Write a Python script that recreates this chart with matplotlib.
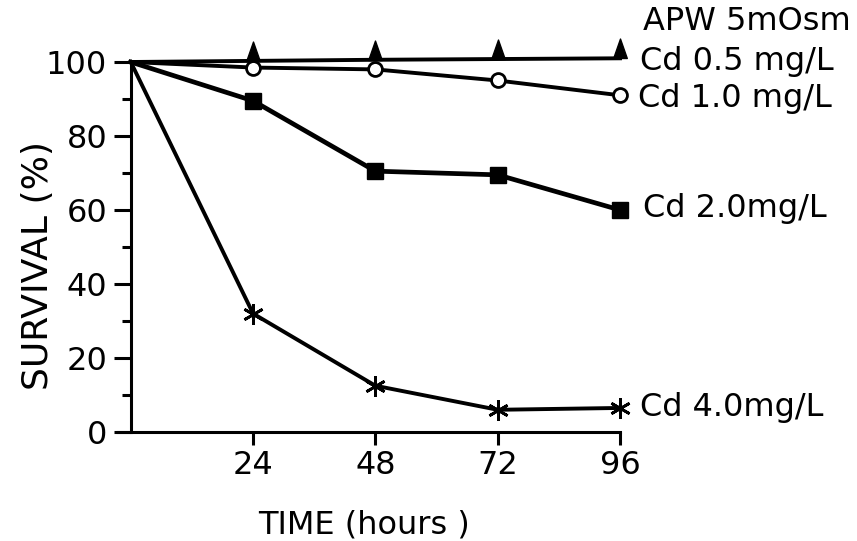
from matplotlib import pyplot as plt
from matplotlib.path import Path
from matplotlib.ticker import MultipleLocator
import numpy as np

hours = [0, 24, 48, 72, 96]
apw = [100, 100.3, 100.6, 100.8, 101]
cd_1 = [100, 98.5, 98, 95, 91]
cd_2 = [100, 89.5, 70.5, 69.5, 60]
cd_4 = [100, 32, 12.5, 6, 6.5]

labels = ["APW 5mOsm", "Cd 0.5 mg/L", "Cd 1.0 mg/L", "Cd 2.0mg/L", "Cd 4.0mg/L"]
label_y = [111, 100, 90, 60.5, 6.5]
label_x = [100.5, 100, 99.5, 100.5, 100]


def main():
    plt.rcParams["font.family"] = ["DejaVu Sans"]
    fig = plt.figure(figsize=(8.57, 5.41), dpi=100)
    ax = fig.add_axes([0.1377, 0.2015, 0.5858, 0.6839])

    # triangle sitting on top of its point
    tri = Path([(-0.7, 0), (0.7, 0), (0, 2), (-0.7, 0)],
               [Path.MOVETO, Path.LINETO, Path.LINETO, Path.CLOSEPOLY])

    ax.plot(hours, apw, color="black", lw=2.8, marker=tri, ms=28,
            markevery=[1, 2, 3, 4], clip_on=False, zorder=3)
    ax.plot(hours, cd_1, color="black", lw=2.8, marker="o", ms=10,
            mfc="white", mec="black", mew=2, markevery=[1, 2, 3, 4],
            clip_on=False, zorder=4)
    ax.plot(hours, cd_2, color="black", lw=3.4, marker="s", ms=12,
            markevery=[1, 2, 3, 4], clip_on=False, zorder=3)
    ax.plot(hours, cd_4, color="black", lw=2.8, marker=(6, 2, 0), ms=15,
            mew=2, markevery=[1, 2, 3, 4], clip_on=False, zorder=3)

    for txt, x, y in zip(labels, label_x, label_y):
        ax.text(x, y, txt, fontsize=23, va="center", ha="left", clip_on=False)

    ax.set_xlim(-2.5, 96)
    ax.set_ylim(0, 100)
    ax.spines["left"].set_position(("data", 0))
    ax.spines["top"].set_visible(False)
    ax.spines["right"].set_visible(False)
    for s in ("left", "bottom"):
        ax.spines[s].set_linewidth(2.2)

    ax.set_xticks([24, 48, 72, 96])
    ax.set_yticks([0, 20, 40, 60, 80, 100])
    ax.yaxis.set_minor_locator(MultipleLocator(10))
    ax.tick_params(axis="y", which="major", length=12, width=2.2,
                   labelsize=23, pad=5)
    ax.tick_params(axis="y", which="minor", length=6.5, width=2.2)
    ax.tick_params(axis="x", which="major", length=9, width=2.2,
                   labelsize=23, pad=4)

    fig.text(0.425, 0.03, "TIME (hours )", fontsize=23, ha="center", va="center")
    fig.text(0.044, 0.51, "SURVIVAL (%)", fontsize=26, ha="center",
             va="center", rotation=90)

    fig.savefig("out.png", dpi=100)


if __name__ == '__main__':
    main()
